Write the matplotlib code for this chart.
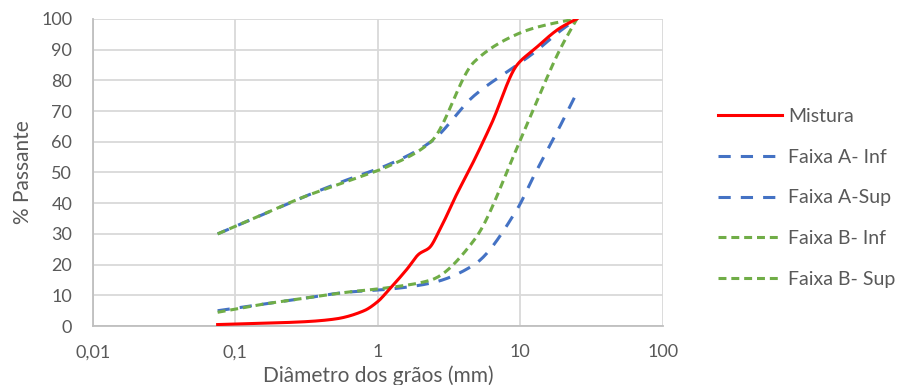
import numpy as np
import matplotlib.pyplot as plt

# diametro (mm) e % passante
mist_d = [0.075, 0.15, 0.3, 0.5, 0.8, 1.0, 1.18, 1.6, 1.95, 2.3, 2.7, 3.5, 4.75, 6.3, 9.5, 12.5, 19.0, 25.0]
mist_p = [0.5, 0.9, 1.4, 2.3, 5.0, 8.0, 11.5, 18.5, 23.5, 25.5, 31.0, 42.0, 54.0, 66.0, 85.0, 90.0, 97.0, 100.0]

sieves = [0.075, 0.15, 0.3, 0.6, 1.18, 2.36, 4.75, 9.5, 12.5, 19.0, 25.0]
a_inf = [5, 7, 9, 11, 12, 14, 20, 38, 49, 65, 76]
a_sup = [30, 36, 42, 47.5, 52.5, 60, 75, 85, 89, 96, 100]
b_inf = [4.5, 7, 9, 11, 12.5, 15, 28, 58, 71, 90, 100]
b_sup = [30, 36, 42, 47, 52, 60, 86, 95, 97, 99, 100]


def smooth(xs, ys, n=25):
    # curva suave monotona (hermite) em log x
    lx = np.log10(xs)
    y = np.asarray(ys, dtype=float)
    h = np.diff(lx)
    d = np.diff(y) / h
    m = np.zeros_like(y)
    m[0], m[-1] = d[0], d[-1]
    for i in range(1, len(y) - 1):
        if d[i - 1] * d[i] > 0:
            w1 = 2 * h[i] + h[i - 1]
            w2 = h[i] + 2 * h[i - 1]
            m[i] = (w1 + w2) / (w1 / d[i - 1] + w2 / d[i])
    ox, oy = [], []
    t = np.linspace(0, 1, n)
    for i in range(len(h)):
        h00 = 2 * t**3 - 3 * t**2 + 1
        h10 = t**3 - 2 * t**2 + t
        h01 = -2 * t**3 + 3 * t**2
        h11 = t**3 - t**2
        ox.extend(lx[i] + t * h[i])
        oy.extend(h00 * y[i] + h10 * h[i] * m[i] + h01 * y[i + 1] + h11 * h[i] * m[i + 1])
    return 10 ** np.array(ox), np.array(oy)


plt.rcParams['font.family'] = ['Lato', 'DejaVu Sans']
fig = plt.figure(figsize=(8.97, 3.85), dpi=100)
ax = fig.add_axes([0.1037, 0.153, 0.635, 0.798])

blue = "#4472C4"
green = "#70AD47"
x, y = smooth(sieves, a_inf)
ax.plot(x, y, color=blue, lw=2.2, dashes=(4, 3.3), label="Faixa A- Inf", zorder=3)
x, y = smooth(sieves, a_sup)
ax.plot(x, y, color=blue, lw=2.2, dashes=(4, 3.3), label="Faixa A-Sup", zorder=3)
x, y = smooth(sieves, b_inf)
ax.plot(x, y, color=green, lw=2.2, dashes=(2.6, 1.6), label="Faixa B- Inf", zorder=4)
x, y = smooth(sieves, b_sup)
ax.plot(x, y, color=green, lw=2.2, dashes=(2.6, 1.6), label="Faixa B- Sup", zorder=4)
x, y = smooth(mist_d, mist_p)
ax.plot(x, y, color="#FF0000", lw=2.2, label="Mistura", zorder=5)

ax.set_xscale("log")
ax.set_xlim(0.01, 100)
ax.set_ylim(0, 100)
ax.set_xticks([0.01, 0.1, 1, 10, 100])
ax.set_xticklabels(["0,01", "0,1", "1", "10", "100"])
ax.set_yticks(range(0, 101, 10))
ax.minorticks_off()
ax.grid(True, color="#d9d9d9", lw=1.3)
ax.set_axisbelow(True)
for s in ["top", "right"]:
    ax.spines[s].set_visible(False)
for s in ["left", "bottom"]:
    ax.spines[s].set_color("#bfbfbf")
    ax.spines[s].set_linewidth(1.3)
ax.tick_params(length=0, labelsize=13, colors="#595959")
ax.tick_params(axis="x", pad=13)
ax.tick_params(axis="y", pad=15)
ax.set_xlabel("Diâmetro dos grãos (mm)", fontsize=15, color="#595959", labelpad=4)
ax.set_ylabel("% Passante", fontsize=15, color="#595959", labelpad=6)

h, l = ax.get_legend_handles_labels()
order = [4, 0, 1, 2, 3]
ax.legend([h[i] for i in order], [l[i] for i in order], loc="center left",
          bbox_to_anchor=(0.792, 0.486), bbox_transform=fig.transFigure,
          frameon=False, fontsize=14, handlelength=3.3, labelspacing=1.22,
          handletextpad=0.3, borderaxespad=0, labelcolor="#595959")

fig.savefig("out.png", dpi=100)
